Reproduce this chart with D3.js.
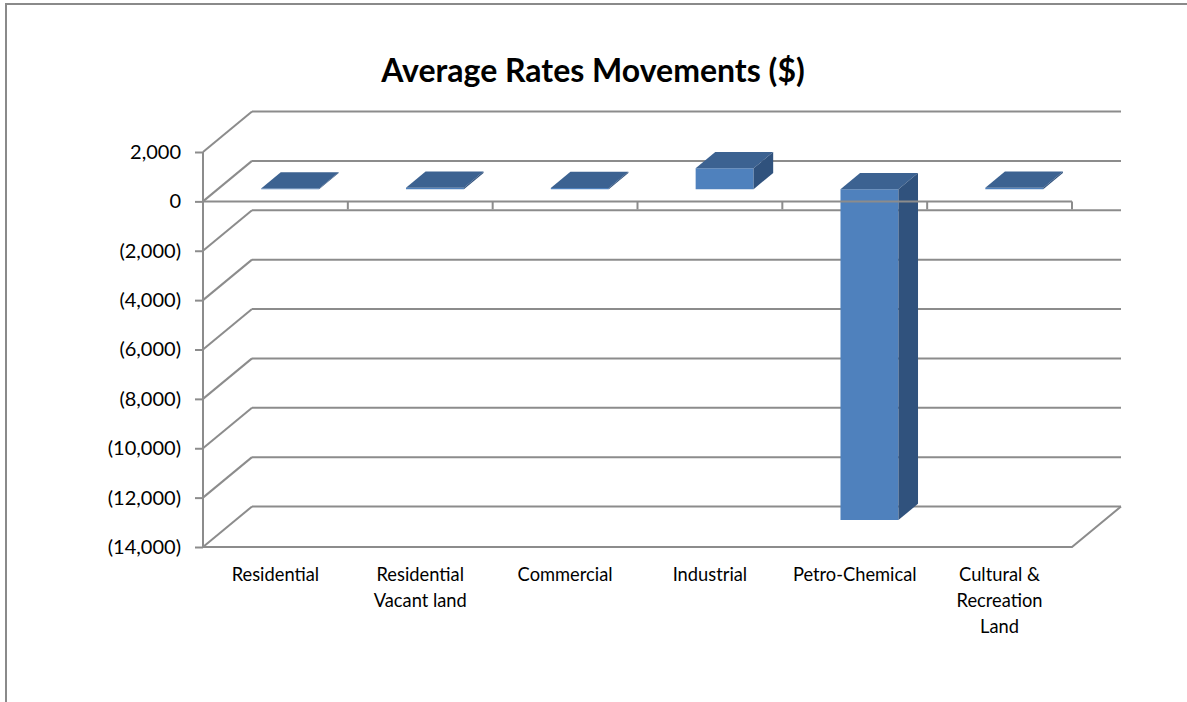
<!DOCTYPE html>
<html>
<head>
<meta charset="utf-8">
<script src="https://cdn.jsdelivr.net/npm/d3@7"></script>
<style>
  html, body { margin: 0; padding: 0; background: #fff; }
  svg { display: block; }
  text { font-family: Lato, Carlito, Calibri, "Liberation Sans", sans-serif; }
</style>
</head>
<body>
<svg id="chart" width="1187" height="702"></svg>
<script>
// ---- Data ----
const categories = ["Residential", "Residential Vacant land", "Commercial", "Industrial", "Petro-Chemical", "Cultural & Recreation Land"];
const categoryLines = [["Residential"], ["Residential", "Vacant land"], ["Commercial"], ["Industrial"], ["Petro-Chemical"], ["Cultural &", "Recreation", "Land"]];
const values = [30, 60, 50, 850, -13400, 60];
const yTicks = [2000, 0, -2000, -4000, -6000, -8000, -10000, -12000, -14000];
const titleText = "Average Rates Movements ($)";

// ---- Layout ----
const svg = d3.select("#chart");
const W = 1187, H = 702;
const X0 = 203, X1 = 1072;        // front plane x range
const DX = 49, DY = -40.5;         // full depth offset
const F0 = 0.3, F1 = 0.7;          // bar depth range
const gridColor = "#8c8c8c";
const frontColor = "#4f81bd", topColor = "#3c6291", sideColor = "#30527d";

svg.append("rect").attr("width", W).attr("height", H).attr("fill", "#fff");
// outer border (extends beyond right/bottom of the picture)
svg.append("rect").attr("x", 6).attr("y", 4).attr("width", W + 20).attr("height", H + 20)
  .attr("fill", "none").attr("stroke", "#8a8a8a").attr("stroke-width", 2);

const x = d3.scaleBand().domain(categories).range([X0, X1]).paddingInner(0.6).paddingOuter(0.3);
const y = d3.scaleLinear().domain([-14000, 2000]).range([547, 152]);
const step = x.step();

function proj(px, v, f) { return [px + DX * f, y(v) + DY * f]; }

// title
svg.append("text").attr("x", 593).attr("y", 82).attr("text-anchor", "middle")
  .attr("font-size", 32).attr("font-weight", "bold").attr("fill", "#000").text(titleText);

const walls = svg.append("g").attr("stroke", gridColor).attr("stroke-width", 2).attr("fill", "none");
// back wall gridlines
walls.selectAll("line.back").data(yTicks).join("line").attr("class", "back")
  .attr("x1", d => proj(X0, d, 1)[0]).attr("y1", d => proj(X0, d, 1)[1])
  .attr("x2", d => proj(X1, d, 1)[0]).attr("y2", d => proj(X1, d, 1)[1]);
// side wall gridlines
walls.selectAll("line.side").data(yTicks).join("line").attr("class", "side")
  .attr("x1", d => proj(X0, d, 0)[0]).attr("y1", d => proj(X0, d, 0)[1])
  .attr("x2", d => proj(X0, d, 1)[0]).attr("y2", d => proj(X0, d, 1)[1]);
// floor
const fmin = yTicks[yTicks.length - 1];
walls.append("path").attr("d", d3.line()([proj(X0, fmin, 0), proj(X1, fmin, 0), proj(X1, fmin, 1)]));

// bars
const bars = svg.append("g");
categories.forEach((c, i) => {
  const v = values[i];
  const xl = x(c), xr = x(c) + x.bandwidth();
  const top = Math.max(0, v), bot = Math.min(0, v);
  const g = bars.append("g");
  g.append("path").attr("fill", frontColor)
    .attr("d", d3.line()([proj(xl, top, F0), proj(xr, top, F0), proj(xr, bot, F0), proj(xl, bot, F0)]) + "Z");
  g.append("path").attr("fill", topColor)
    .attr("d", d3.line()([proj(xl, top, F0), proj(xr, top, F0), proj(xr, top, F1), proj(xl, top, F1)]) + "Z");
  g.append("path").attr("fill", sideColor)
    .attr("d", d3.line()([proj(xr, top, F0), proj(xr, top, F1), proj(xr, bot, F1), proj(xr, bot, F0)]) + "Z");
});

// y axis
const fmt = d => d < 0 ? "(" + d3.format(",")(-d) + ")" : d3.format(",")(d);
const yAxis = svg.append("g").attr("transform", `translate(${X0},0)`)
  .call(d3.axisLeft(y).tickValues(yTicks).tickSize(8).tickPadding(14).tickFormat(fmt));
yAxis.select(".domain").attr("stroke", gridColor).attr("stroke-width", 2).attr("d", `M-0,${y(2000)}V${y(-14000)}`);
yAxis.selectAll(".tick line").attr("stroke", gridColor).attr("stroke-width", 2);
yAxis.selectAll(".tick text").attr("font-size", 20).attr("fill", "#000")
  .style("font-family", "Lato, Carlito, Calibri, sans-serif");

// x axis at zero (front plane), ticks at category boundaries
const xAxis = svg.append("g").attr("stroke", gridColor).attr("stroke-width", 2);
xAxis.append("line").attr("x1", X0).attr("x2", X1).attr("y1", y(0)).attr("y2", y(0));
xAxis.selectAll("line.tk").data(d3.range(1, categories.length + 1)).join("line").attr("class", "tk")
  .attr("x1", i => X0 + i * step).attr("x2", i => X0 + i * step)
  .attr("y1", y(0)).attr("y2", y(0) + 8);

// category labels
const labels = svg.append("g").attr("font-size", 18.3).attr("fill", "#000").attr("text-anchor", "middle");
categories.forEach((c, i) => {
  const t = labels.append("text").attr("x", x(c) + x.bandwidth() / 2).attr("y", 581);
  categoryLines[i].forEach((ln, j) => {
    t.append("tspan").attr("x", x(c) + x.bandwidth() / 2).attr("y", 581 + j * 26).text(ln);
  });
});
</script>
</body>
</html>
